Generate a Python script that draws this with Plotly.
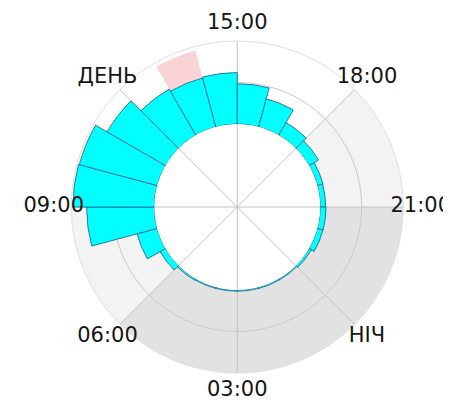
import plotly.graph_objects as go

# ---- data ----
hours = list(range(24))  # bar start hour (each bar spans one hour)
counts = [0.03, 0.03, 0.03, 0.03, 0.03, 0.04, 0.15, 0.50,
          1.63, 1.96, 1.94, 1.62, 1.28, 1.22, 1.24, 0.97,
          0.70, 0.35, 0.26, 0.14, 0.13, 0.14, 0.14, 0.06]
highlight_hour = [13]
highlight_value = [1.9]
twilight_periods = [(18, 21), (6, 9)]
night_periods = [(21, 30)]  # 21:00 -> 06:00 next day
tick_hours = [15, 18, 21, 0, 3, 6, 9, 12]
tick_labels = ['15:00', '18:00', '21:00', 'НІЧ', '03:00', '06:00', '09:00', 'ДЕНЬ']


def hour_to_theta(h):
    return ((h - 15) * 15) % 360


W, H = 451, 409
PAGE_OFF = 8                      # browser body margin
cx, cy, R = 237.25 - PAGE_OFF, 207.0 - PAGE_OFF, 166.0
RL = 190.0                        # label layer radius
LABEL_R = 183.5


def dom(rad):
    return dict(x=[(cx - rad) / W, (cx + rad) / W],
                y=[((H - cy) - rad) / H, ((H - cy) + rad) / H])


fig = go.Figure()

# layer 1: background shading sectors
for (a, b) in night_periods:
    fig.add_trace(go.Barpolar(r=[2], theta=[hour_to_theta((a + b) / 2)], width=[(b - a) * 15],
                              marker=dict(color='#e2e2e2', line=dict(width=0)),
                              subplot='polar', hoverinfo='skip'))
for (a, b) in twilight_periods:
    fig.add_trace(go.Barpolar(r=[2], theta=[hour_to_theta((a + b) / 2)], width=[(b - a) * 15],
                              marker=dict(color='#f3f3f3', line=dict(width=0)),
                              subplot='polar', hoverinfo='skip'))

# layer 2: grid
fig.add_trace(go.Scatterpolar(r=[0], theta=[0], mode='markers', marker=dict(opacity=0),
                              subplot='polar2', hoverinfo='skip'))

# layer 3: bars
fig.add_trace(go.Barpolar(r=highlight_value, theta=[hour_to_theta(h + 0.5) for h in highlight_hour],
                          width=[15] * len(highlight_hour),
                          marker=dict(color='#fad3d6', line=dict(width=0)),
                          subplot='polar3', hoverinfo='skip'))
fig.add_trace(go.Barpolar(r=counts, theta=[hour_to_theta(h + 0.5) for h in hours],
                          width=[15] * len(hours),
                          marker=dict(color='#00ffff', line=dict(color='#266a92', width=0.9)),
                          subplot='polar3'))

# layer 4: labels
fig.add_trace(go.Scatterpolar(r=[LABEL_R / RL] * len(tick_hours),
                              theta=[hour_to_theta(h) for h in tick_hours],
                              mode='text', text=tick_labels,
                              textfont=dict(family='DejaVu Sans', size=21, color='#151515'),
                              cliponaxis=False, subplot='polar4', hoverinfo='skip'))

common_ang = dict(rotation=90, direction='clockwise')
hidden_ang = dict(visible=False, showgrid=False, **common_ang)

fig.update_layout(
    width=W, height=H,
    margin=dict(l=0, r=0, t=0, b=0),
    paper_bgcolor='white',
    showlegend=False,
    polar=dict(domain=dom(R), hole=0.5, bgcolor='white', barmode='overlay',
               radialaxis=dict(range=[0, 2], visible=False),
               angularaxis=hidden_ang),
    polar2=dict(domain=dom(R), hole=0, bgcolor='rgba(0,0,0,0)',
                radialaxis=dict(range=[0, 4], tickvals=[3], showticklabels=False, ticks='',
                                showline=False, gridcolor='#c9c9c9', gridwidth=1),
                angularaxis=dict(tickvals=[0, 45, 90, 135, 180, 225, 270, 315],
                                 showticklabels=False, ticks='', showline=True,
                                 linecolor='#dedede', linewidth=1,
                                 gridcolor='#c2c2c2', gridwidth=1, **common_ang)),
    polar3=dict(domain=dom(R), hole=0.5, bgcolor='rgba(0,0,0,0)', barmode='overlay',
                radialaxis=dict(range=[0, 2], visible=False),
                angularaxis=hidden_ang),
    polar4=dict(domain=dom(RL), hole=0, bgcolor='rgba(0,0,0,0)',
                radialaxis=dict(range=[0, 1], visible=False),
                angularaxis=hidden_ang),
)

fig.write_html("out.html")
